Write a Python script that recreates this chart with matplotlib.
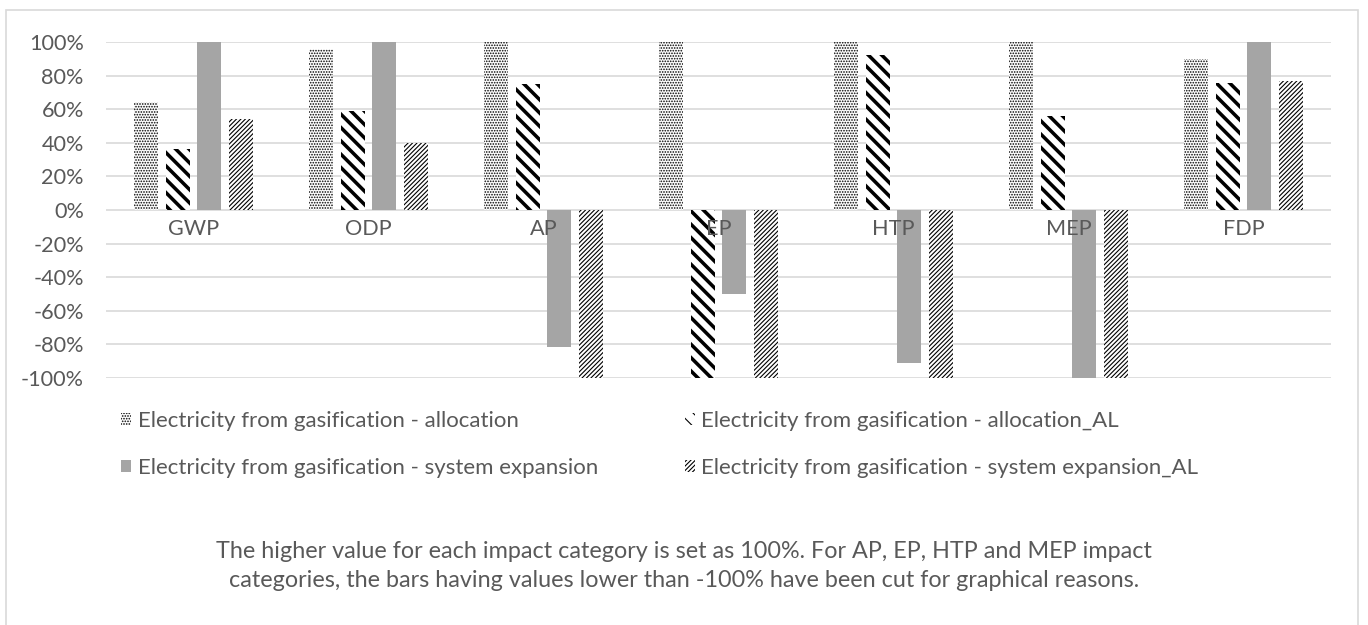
import matplotlib.pyplot as plt
import matplotlib.patches as mpatches
import numpy as np

categories = ['GWP', 'ODP', 'AP', 'EP', 'HTP', 'MEP', 'FDP']
series_names = [
    'Electricity from gasification - allocation',
    'Electricity from gasification - allocation_AL',
    'Electricity from gasification - system expansion',
    'Electricity from gasification - system expansion_AL',
]
allocation = [0.64, 0.958, 1.00, 1.00, 1.00, 1.00, 0.90]
allocation_al = [0.363, 0.59, 0.75, -1.00, 0.92, 0.56, 0.758]
system_exp = [1.00, 1.00, -0.815, -0.50, -0.91, -1.00, 1.00]
system_exp_al = [0.54, 0.40, -1.00, -1.00, -1.00, -1.00, 0.768]
yticks = [1.0, 0.8, 0.6, 0.4, 0.2, 0.0, -0.2, -0.4, -0.6, -0.8, -1.0]

caption = ("The higher value for each impact category is set as 100%. For AP, EP, HTP and MEP impact\n"
           "categories, the bars having values lower than -100% have been cut for graphical reasons.")

plt.rcParams['font.family'] = ['Lato', 'DejaVu Sans']
TXT = '#595959'
GRID = '#d9d9d9'
DPI = 80

# face, hatch, hatch linewidth
styles = [
    ('white', '.....', 1.0),
    ('white', '\\\\', 3.2),
    ('#a5a5a5', None, 1.0),
    ('white', '//////', 1.0),
]

fig = plt.figure(figsize=(1368 / DPI, 625 / DPI), dpi=DPI)
ax = fig.add_axes([106 / 1368, 1 - 378 / 625, (1331 - 106) / 1368, 336 / 625])

x = np.arange(len(categories))
offsets = [-0.27, -0.09, 0.09, 0.27]
width = 0.137
data = [allocation, allocation_al, system_exp, system_exp_al]
handles = []
for vals, off, (fc, hatch, hlw), name in zip(data, offsets, styles, series_names):
    plt.rcParams['hatch.linewidth'] = hlw
    bars = ax.bar(x + off, vals, width, color=fc, hatch=hatch, edgecolor='black',
                  linewidth=0, zorder=2)
    for b in bars:
        if hasattr(b, 'set_hatch_linewidth'):
            b.set_hatch_linewidth(hlw)
    h = mpatches.Patch(facecolor=fc, hatch=hatch, edgecolor='black', linewidth=0, label=name)
    if hasattr(h, 'set_hatch_linewidth'):
        h.set_hatch_linewidth(hlw)
    handles.append(h)

ax.set_xlim(-0.5, len(categories) - 0.5)
ax.set_ylim(-1.0, 1.0)
ax.set_yticks(yticks)
ax.set_yticklabels(['%d%%' % round(v * 100) for v in yticks], fontsize=19.5, color=TXT)
ax.tick_params(axis='y', length=0, pad=20)
ax.set_xticks([])
for s in ax.spines.values():
    s.set_visible(False)
ax.grid(axis='y', color=GRID, linewidth=1.5, zorder=0)
ax.set_axisbelow(True)

for i, c in enumerate(categories):
    ax.annotate(c, (i, 0), xytext=(0, -8), textcoords='offset points', ha='center', va='top',
                fontsize=19.5, color=TXT, zorder=5)

order = [0, 2, 1, 3]
leg = fig.legend([handles[i] for i in order], [series_names[i] for i in order], ncol=2,
                 loc='upper left', bbox_to_anchor=(101 / 1368, 1 - 391 / 625), frameon=False,
                 fontsize=20, handlelength=0.45, handleheight=0.45, handletextpad=0.3,
                 labelspacing=1.2, columnspacing=3.9, labelcolor=TXT)

fig.text(0.5, 1 - 566 / 625, caption, ha='center', va='center', fontsize=21, color=TXT,
         linespacing=1.5)

frame = mpatches.Rectangle((6 / 1368, -0.1), (1358 - 6) / 1368, 1.1 - 10 / 625,
                           transform=fig.transFigure, fill=False, edgecolor=GRID, linewidth=1.5,
                           clip_on=False)
fig.patches.append(frame)

fig.savefig('out.png', dpi=DPI, facecolor='white')
